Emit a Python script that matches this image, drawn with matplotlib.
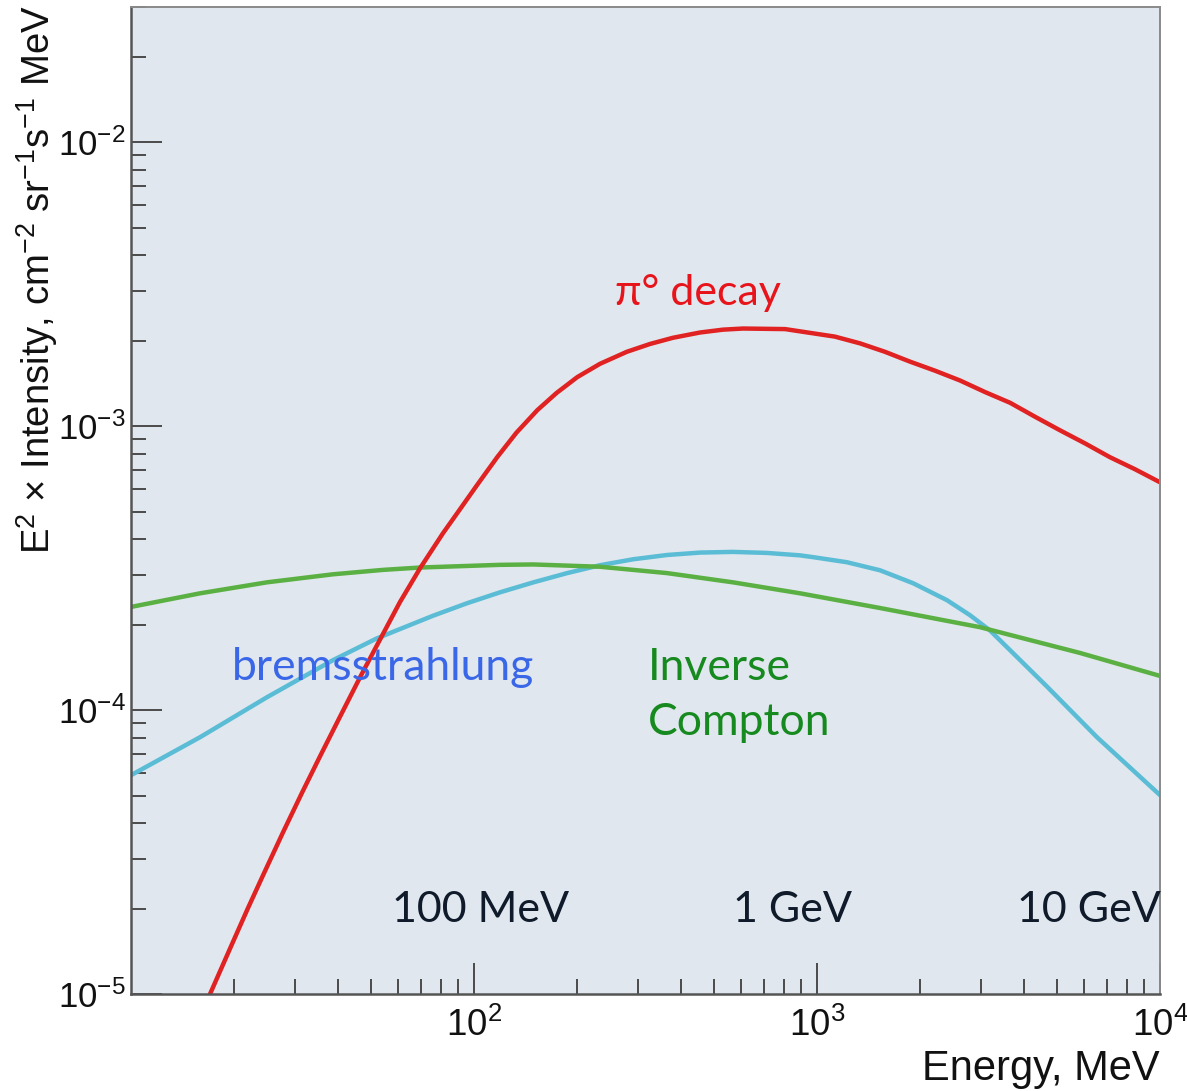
import matplotlib.pyplot as plt
from matplotlib.ticker import LogLocator, NullFormatter

# Gamma-ray emissivity components, E^2 x intensity vs photon energy (MeV)
pi0_energy = [17.0, 19.8, 21.9, 24.3, 27.8, 31.5, 35.6, 40.6, 46.6, 52.1, 60.8, 69.6,
              81.2, 91.0, 102, 117, 133, 153, 174, 200, 233, 279, 326, 380, 456,
              532, 609, 807, 1127, 1334, 1578, 1866, 2208, 2612, 3090, 3656, 4325,
              5110, 6040, 7150, 8450, 10000]
pi0_flux = [1.0e-5, 1.52e-5, 2.0e-5, 2.63e-5, 3.73e-5, 5.11e-5, 6.89e-5, 9.44e-5,
            1.31e-4, 1.69e-4, 2.40e-4, 3.16e-4, 4.20e-4, 5.10e-4, 6.20e-4, 7.80e-4,
            9.50e-4, 1.14e-3, 1.31e-3, 1.49e-3, 1.66e-3, 1.83e-3, 1.95e-3, 2.05e-3,
            2.14e-3, 2.19e-3, 2.21e-3, 2.20e-3, 2.07e-3, 1.96e-3, 1.83e-3, 1.69e-3,
            1.57e-3, 1.45e-3, 1.32e-3, 1.21e-3, 1.08e-3, 9.68e-4, 8.71e-4, 7.78e-4,
            7.06e-4, 6.35e-4]

ic_energy = [10, 15.9, 24.9, 38.8, 54.3, 69.6, 119, 149, 233, 365, 569, 892,
             1526, 2987, 5848, 10000]
ic_flux = [2.31e-4, 2.58e-4, 2.82e-4, 3.01e-4, 3.12e-4, 3.18e-4, 3.25e-4, 3.26e-4,
           3.20e-4, 3.04e-4, 2.82e-4, 2.58e-4, 2.29e-4, 1.96e-4, 1.59e-4, 1.32e-4]

brems_energy = [10, 15.9, 24.9, 38.8, 52.1, 60.8, 75.9, 95.4, 119, 149, 187, 233,
                291, 365, 456, 569, 714, 892, 973, 1222, 1526, 1906, 2393, 2793,
                3192, 3725, 4685, 6549, 10000]
brems_flux = [5.90e-5, 8.03e-5, 1.11e-4, 1.50e-4, 1.79e-4, 1.93e-4, 2.15e-4, 2.38e-4,
              2.60e-4, 2.82e-4, 3.04e-4, 3.24e-4, 3.40e-4, 3.52e-4, 3.59e-4, 3.61e-4,
              3.58e-4, 3.51e-4, 3.46e-4, 3.32e-4, 3.11e-4, 2.80e-4, 2.44e-4, 2.16e-4,
              1.91e-4, 1.59e-4, 1.21e-4, 8.03e-5, 5.02e-5]

energy_marks = ['100 MeV', '1 GeV', '10 GeV']

plt.rcParams['font.family'] = ['Liberation Sans', 'DejaVu Sans']
plt.rcParams['mathtext.fontset'] = 'custom'
plt.rcParams['mathtext.rm'] = 'Liberation Sans'

fig = plt.figure(figsize=(11.87, 10.91), dpi=100)
ax = fig.add_axes([131 / 1187, 1 - 994 / 1091, 1029 / 1187, 987 / 1091])
ax.set_facecolor('#e0e7ee')

ax.plot(brems_energy, brems_flux, color='#5bbcd6', lw=3.2, solid_joinstyle='round')
ax.plot(ic_energy, ic_flux, color='#5bb043', lw=3.2, solid_joinstyle='round')
ax.plot(pi0_energy, pi0_flux, color='#e02222', lw=3.2, solid_joinstyle='round')

ax.set_xscale('log')
ax.set_yscale('log')
ax.set_xlim(10, 1e4)
ax.set_ylim(1e-5, 3e-2)

ax.set_xticks([1e2, 1e3, 1e4])
ax.yaxis.set_major_locator(LogLocator(base=10, numticks=10))
ax.xaxis.set_minor_locator(LogLocator(base=10, subs=range(2, 10), numticks=20))
ax.yaxis.set_minor_locator(LogLocator(base=10, subs=range(2, 10), numticks=20))
ax.xaxis.set_minor_formatter(NullFormatter())
ax.yaxis.set_minor_formatter(NullFormatter())

ax.tick_params(which='both', direction='in', color='#4a4a4a', width=1.4,
               labelsize=25, labelcolor='#111111', top=False, right=False)
ax.tick_params(which='major', length=22)
ax.tick_params(which='minor', length=11)
ax.tick_params(axis='x', which='major', pad=10, labelsize=26.5)
ax.tick_params(axis='y', which='major', pad=4)

for side in ['left', 'bottom']:
    ax.spines[side].set_color('#555555')
    ax.spines[side].set_linewidth(1.8)
for side in ['top', 'right']:
    ax.spines[side].set_color('#8a8a8a')
    ax.spines[side].set_linewidth(1.4)

fig.text(37 / 1187, 1 - 5 / 1091,
         r'E$^{2}$ $\times$ Intensity, cm$^{-2}$ sr$^{-1}$s$^{-1}$ MeV',
         rotation=90, ha='center', va='top', fontsize=27.5, color='#111111')
fig.text(1160 / 1187, 1 - 1080 / 1091, 'Energy, MeV', ha='right', va='baseline',
         fontsize=30, color='#111111')

# Component labels
label_font = ['Lato', 'DejaVu Sans']
ax.text(0.470, 0.698, 'π° decay', transform=ax.transAxes, fontsize=31,
        color='#e8141c', family=label_font, va='baseline')
ax.text(0.098, 0.318, 'bremsstrahlung', transform=ax.transAxes, fontsize=32,
        color='#3a66e8', family=label_font, va='baseline')
ax.text(0.502, 0.318, 'Inverse', transform=ax.transAxes, fontsize=32,
        color='#168a1e', family=label_font, va='baseline')
ax.text(0.502, 0.262, 'Compton', transform=ax.transAxes, fontsize=32,
        color='#168a1e', family=label_font, va='baseline')

for xpos, mark in zip([0.254, 0.585, 0.861], energy_marks):
    ax.text(xpos, 0.073, mark, transform=ax.transAxes, fontsize=31,
            color='#0f1a2a', family=label_font, va='baseline')

fig.savefig('out.png', dpi=100)
